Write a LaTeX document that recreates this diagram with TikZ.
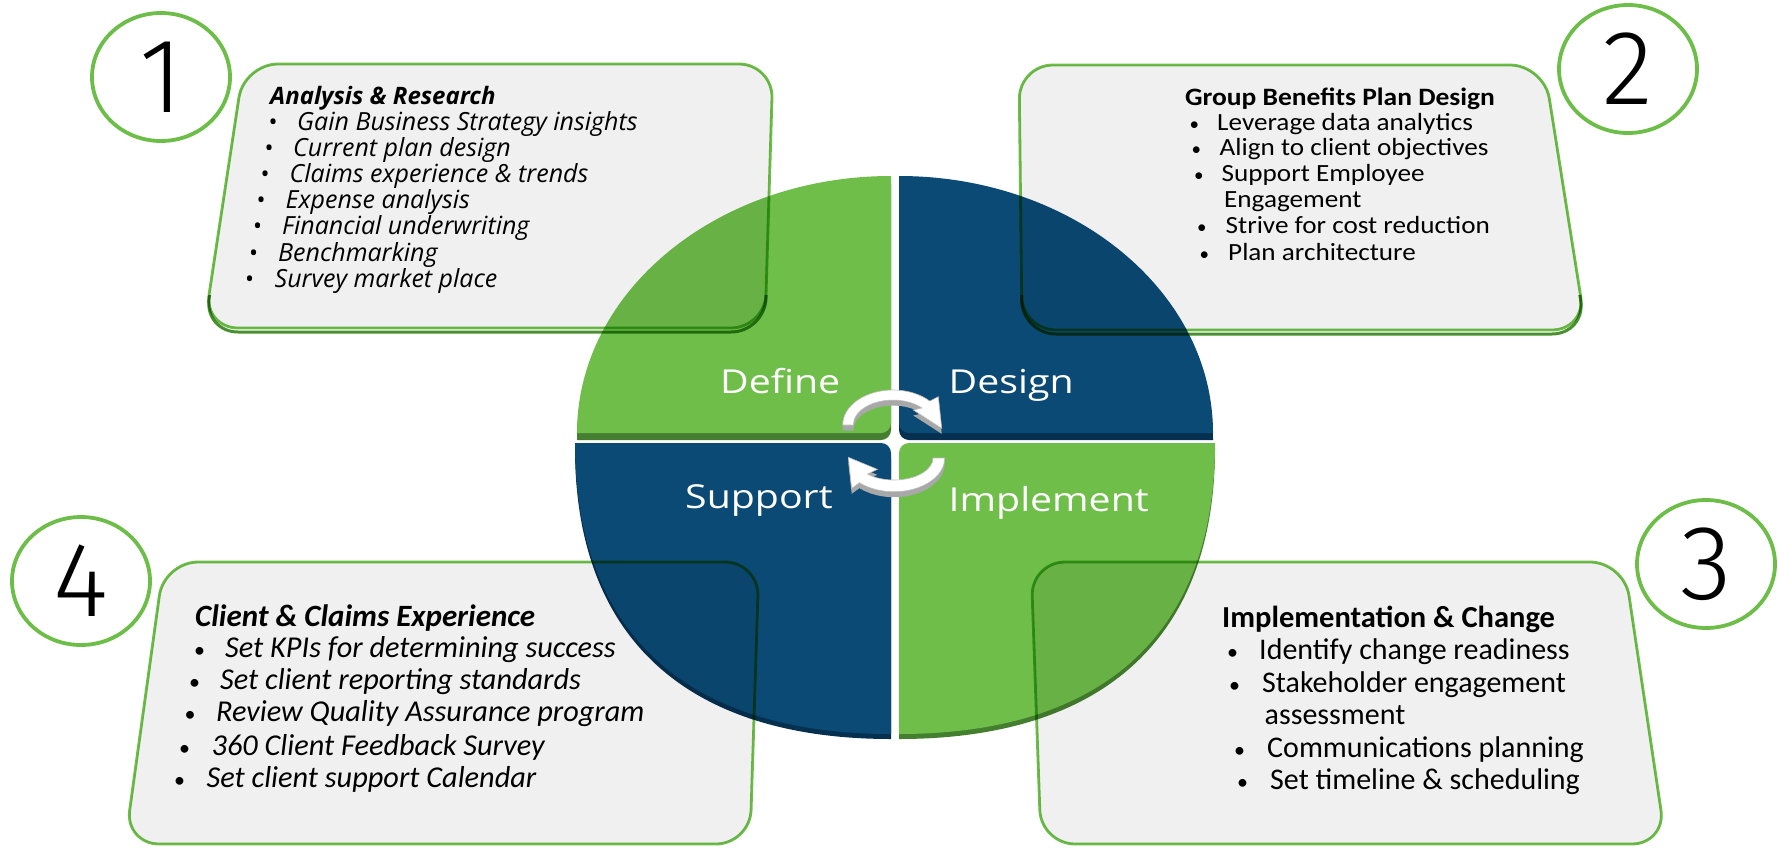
\documentclass[tikz,border=0pt]{standalone}
\usepackage{fontspec}
\setmainfont{Open Sans}
\newfontfamily\osfont{Open Sans}
\newfontfamily\oswide{Open Sans}[FakeStretch=1.19]
\newfontfamily\cbfont{Carlito}
\newfontfamily\cbwide{Carlito}[FakeStretch=1.1]
\newfontfamily\numfont{Fira Sans Light}
\usetikzlibrary{shapes.geometric}
\definecolor{pgreen}{HTML}{6FBE4A}
\definecolor{pgreenD}{HTML}{447F2F}
\definecolor{pblue}{HTML}{0B4A75}
\definecolor{pblueD}{HTML}{053050}
\definecolor{bfill}{HTML}{F0F0F0}
\definecolor{bline}{HTML}{6CBE48}
\definecolor{bshadow}{HTML}{4A9032}
\definecolor{agray}{HTML}{A8A8A8}
\definecolor{aline}{HTML}{BDBDBD}
\tikzset{
  boxface/.style={fill=bfill, draw=bline, line width=2.8pt, rounded corners=34pt},
  boxshade/.style={draw=bshadow, line width=3pt, rounded corners=34pt, yshift=-4pt},
  numc/.style={ellipse, draw=bline, line width=3.8pt, minimum width=138pt, minimum height=128pt, inner sep=0pt, font=\numfont\fontsize{106}{106}\selectfont},
  lbl/.style={anchor=base west, inner sep=0pt, text=white, font=\oswide\fontsize{33}{33}\selectfont},
  tA/.style={anchor=base west, inner sep=0pt, font=\osfont\itshape\fontsize{25}{26}\selectfont},
  tAh/.style={anchor=base west, inner sep=0pt, font=\osfont\bfseries\itshape\fontsize{24}{26}\selectfont},
  dA/.style={anchor=base west, inner sep=0pt, font=\osfont\fontsize{24}{26}\selectfont},
  tB/.style={anchor=base west, inner sep=0pt, font=\cbwide\fontsize{24.7}{26}\selectfont},
  tBh/.style={anchor=base west, inner sep=0pt, font=\cbwide\bfseries\fontsize{25}{26}\selectfont},
  dB/.style={anchor=base west, inner sep=0pt, font=\cbfont\fontsize{19}{26}\selectfont},
  tC/.style={anchor=base west, inner sep=0pt, font=\cbfont\fontsize{30}{33}\selectfont},
  tCh/.style={anchor=base west, inner sep=0pt, font=\cbfont\bfseries\fontsize{30.5}{33}\selectfont},
  tD/.style={anchor=base west, inner sep=0pt, font=\cbfont\itshape\fontsize{30.3}{33}\selectfont},
  tDh/.style={anchor=base west, inner sep=0pt, font=\cbfont\bfseries\itshape\fontsize{31}{33}\selectfont},
  dC/.style={anchor=base west, inner sep=0pt, font=\cbfont\fontsize{22}{33}\selectfont},
  arrowside/.style={fill=agray, yshift=-5.5pt},
  arrowface/.style={fill=white, draw=aline, line width=0.6pt}
}
\begin{document}
\begin{tikzpicture}[x=1pt,y=1pt]
\fill[white] (0,0) rectangle (1778,-847);

% ---------- pie: 3D edges ----------
\fill[pgreenD, yshift=-7pt] (577,-433) -- (881,-433) arc[start angle=-90,end angle=0,radius=10] -- (891,-176) arc[start angle=90,end angle=180,x radius=314,y radius=257] -- cycle;
\fill[pblueD, yshift=-7pt] (1213,-433) -- (909,-433) arc[start angle=-90,end angle=-180,radius=10] -- (899,-176) arc[start angle=90,end angle=0,x radius=314,y radius=257] -- cycle;
\fill[pblueD, yshift=-5pt] (575,-443) -- (881,-443) arc[start angle=90,end angle=0,radius=10] -- (891,-734) .. controls (685.6,-734) and (575,-632.2) .. (575,-443) -- cycle;
\fill[pgreenD, yshift=-5pt] (1215,-443) -- (909,-443) arc[start angle=90,end angle=180,radius=10] -- (899,-734) .. controls (1104.4,-734) and (1215,-632.2) .. (1215,-443) -- cycle;

% ---------- pie: faces ----------
\fill[pgreen] (577,-433) -- (881,-433) arc[start angle=-90,end angle=0,radius=10] -- (891,-176) arc[start angle=90,end angle=180,x radius=314,y radius=257] -- cycle;
\fill[pblue] (1213,-433) -- (909,-433) arc[start angle=-90,end angle=-180,radius=10] -- (899,-176) arc[start angle=90,end angle=0,x radius=314,y radius=257] -- cycle;
\fill[pblue] (575,-443) -- (881,-443) arc[start angle=90,end angle=0,radius=10] -- (891,-734) .. controls (685.6,-734) and (575,-632.2) .. (575,-443) -- cycle;
\fill[pgreen] (1215,-443) -- (909,-443) arc[start angle=90,end angle=180,radius=10] -- (899,-734) .. controls (1104.4,-734) and (1215,-632.2) .. (1215,-443) -- cycle;

% ---------- boxes ----------
\begin{scope}[blend mode=multiply]
  \begin{scope}
    \clip (0,-295) rectangle (1778,-347);
    \draw[boxshade] (244,-64) -- (773,-64) -- (765,-328) -- (204,-328) -- cycle;
    \draw[boxshade] (1019,-65) -- (1544,-65) -- (1586,-330) -- (1022,-330) -- cycle;
  \end{scope}
  \draw[boxface] (244,-64) -- (773,-64) -- (765,-328) -- (204,-328) -- cycle;
  \draw[boxface] (1019,-65) -- (1544,-65) -- (1586,-330) -- (1022,-330) -- cycle;
  \draw[boxface] (1031,-562) -- (1624,-562) -- (1666,-844) -- (1041,-844) -- cycle;
  \draw[boxface] (164,-562) -- (759,-562) -- (750,-844) -- (125,-844) -- cycle;
\end{scope}

% ---------- cycle arrows ----------
\fill[arrowside] (842.7,-425) arc[start angle=180,end angle=43,x radius=50.3,y radius=35] -- (938.3,-396.7) -- (941.7,-428.3) -- (913.3,-410) -- (922,-408) arc[start angle=43,end angle=180,x radius=39.7,y radius=25] -- cycle;
\filldraw[arrowface] (842.7,-425) arc[start angle=180,end angle=43,x radius=50.3,y radius=35] -- (938.3,-396.7) -- (941.7,-428.3) -- (913.3,-410) -- (922,-408) arc[start angle=43,end angle=180,x radius=39.7,y radius=25] -- cycle;
\fill[arrowside] (944.7,-458) arc[start angle=0,end angle=-133,x radius=50.7,y radius=33.7] -- (851.7,-488.3) -- (848.3,-457.3) -- (877.3,-469.3) -- (867.4,-474.1) arc[start angle=-133,end angle=0,x radius=39,y radius=22] -- cycle;
\filldraw[arrowface] (944.7,-458) arc[start angle=0,end angle=-133,x radius=50.7,y radius=33.7] -- (851.7,-488.3) -- (848.3,-457.3) -- (877.3,-469.3) -- (867.4,-474.1) arc[start angle=-133,end angle=0,x radius=39,y radius=22] -- cycle;

% ---------- pie labels ----------
\node[lbl] (ldef) at (720,-393.3) {Define};
\node[lbl] (ldes) at (948.5,-393) {Design};
\node[lbl] (lsup) at (685,-508.3) {Support};
\node[lbl] (limp) at (948.5,-511.7) {Implement};

% ---------- box 1 text ----------
\node[tAh] (b1h) at (270,-104) {Analysis \& Research};
\node[dA] (b1d1) at (268.5,-130) {•};   \node[tA] (b1l1) at (297,-130) {Gain Business Strategy insights};
\node[dA] (b1d2) at (264.5,-156) {•};   \node[tA] (b1l2) at (293,-156) {Current plan design};
\node[dA] (b1d3) at (260.5,-182) {•};   \node[tA] (b1l3) at (289.5,-182) {Claims experience \& trends};
\node[dA] (b1d4) at (256.5,-208) {•};   \node[tA] (b1l4) at (285.5,-208) {Expense analysis};
\node[dA] (b1d5) at (253,-234) {•};     \node[tA] (b1l5) at (282,-234) {Financial underwriting};
\node[dA] (b1d6) at (249,-261) {•};     \node[tA] (b1l6) at (278,-261) {Benchmarking};
\node[dA] (b1d7) at (245,-287) {•};     \node[tA] (b1l7) at (274.5,-287) {Survey market place};

% ---------- box 2 text ----------
\node[tBh] (b2h) at (1185,-105) {Group Benefits Plan Design};
\node[dB] (b2d1) at (1189.5,-130) {•};    \node[tB] (b2l1) at (1217,-130) {Leverage data analytics};
\node[dB] (b2d2) at (1191.5,-155.7) {•};  \node[tB] (b2l2) at (1219.5,-155.7) {Align to client objectives};
\node[dB] (b2d3) at (1194,-181.7) {•};    \node[tB] (b2l3) at (1221.5,-181.7) {Support Employee};
\node[tB] (b2l3b) at (1224,-207.7) {Engagement};
\node[dB] (b2d4) at (1197,-233) {•};      \node[tB] (b2l4) at (1225.5,-233) {Strive for cost reduction};
\node[dB] (b2d5) at (1199.5,-260) {•};    \node[tB] (b2l5) at (1228,-260) {Plan architecture};

% ---------- box 3 text ----------
\node[tCh] (b3h) at (1222,-627) {Implementation \& Change};
\node[dC] (b3d1) at (1227,-659) {•};    \node[tC] (b3l1) at (1259,-659) {Identify change readiness};
\node[dC] (b3d2) at (1229,-692) {•};    \node[tC] (b3l2) at (1262,-692) {Stakeholder engagement};
\node[tC] (b3l2b) at (1264.5,-724) {assessment};
\node[dC] (b3d3) at (1234,-757) {•};    \node[tC] (b3l3) at (1267,-757) {Communications planning};
\node[dC] (b3d4) at (1237,-789) {•};    \node[tC] (b3l4) at (1270,-789) {Set timeline \& scheduling};

% ---------- box 4 text ----------
\node[tDh] (b4h) at (195,-626) {Client \& Claims Experience};
\node[dC] (b4d1) at (194,-657) {•};     \node[tD] (b4l1) at (225,-657) {Set KPIs for determining success};
\node[dC] (b4d2) at (189,-689.3) {•};   \node[tD] (b4l2) at (220,-689.3) {Set client reporting standards};
\node[dC] (b4d3) at (184.5,-721.7) {•}; \node[tD] (b4l3) at (216,-721.7) {Review Quality Assurance program};
\node[dC] (b4d4) at (179,-755) {•};     \node[tD] (b4l4) at (211.5,-755) {360 Client Feedback Survey};
\node[dC] (b4d5) at (174,-787.3) {•};   \node[tD] (b4l5) at (206.5,-787.3) {Set client support Calendar};

% ---------- numbered circles ----------
\node[numc] (c1) at (161,-77) {1};
\node[numc] (c2) at (1628,-69) {2};
\node[numc] (c3) at (1706,-564) {3};
\node[numc] (c4) at (81,-581) {4};
\end{tikzpicture}
\end{document}
